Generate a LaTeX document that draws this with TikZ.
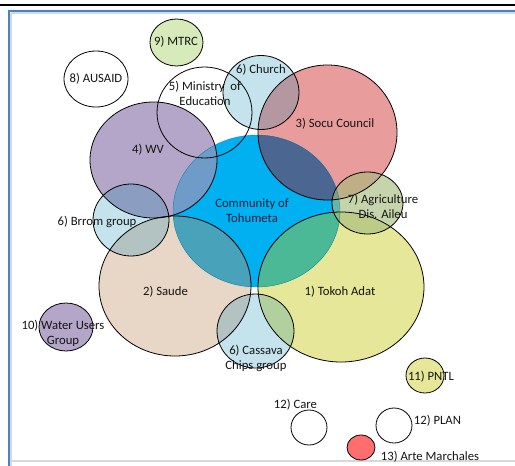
\documentclass[tikz,border=0pt]{standalone}
\usepackage{fontspec}
\setmainfont{Carlito}

\definecolor{frameblue}{RGB}{79,129,189}
\definecolor{framelight}{RGB}{205,218,236}
\definecolor{basegray}{RGB}{216,216,216}
\definecolor{commblue}{RGB}{0,176,240}
\definecolor{socured}{RGB}{233,156,156}
\definecolor{wvpurple}{RGB}{180,166,200}
\definecolor{saudebeige}{RGB}{232,214,198}
\definecolor{tokohyellow}{RGB}{230,231,152}
\definecolor{mtrcgreen}{RGB}{214,234,186}
\definecolor{artered}{RGB}{255,110,110}
\definecolor{tintblue}{RGB}{4,135,178}
\definecolor{agrigreen}{RGB}{165,187,124}
\definecolor{ovsocu}{RGB}{75,103,145}
\definecolor{ovwv}{RGB}{110,155,200}
\definecolor{ovsaude}{RGB}{72,162,185}
\definecolor{ovtokoh}{RGB}{75,185,150}
\definecolor{commtext}{RGB}{12,32,56}

\tikzset{
  ring/.style={draw=black, line width=0.8pt},
  txt/.style={font=\fontsize{12.7}{15}\selectfont, text=black!92, align=center, inner sep=0pt},
  tint/.style={fill=tintblue, fill opacity=0.23},
  % ellipse sizes of the groups
  rcomm/.style={x radius=83.5, y radius=76},
  rsocu/.style={x radius=69.5, y radius=67.5},
  rwv/.style={x radius=63.5, y radius=58},
  rsaude/.style={x radius=76, y radius=70},
  rtokoh/.style={x radius=83, y radius=75},
  ragri/.style={x radius=35.5, y radius=31},
  rchurch/.style={x radius=38, y radius=37},
  rminis/.style={x radius=47.5, y radius=45.5},
  rbrrom/.style={x radius=38, y radius=36},
  rcassava/.style={x radius=38.5, y radius=37},
  rmtrc/.style={x radius=26.5, y radius=23.5},
  rausaid/.style={x radius=32, y radius=28},
  rwater/.style={x radius=27, y radius=24},
  rpntl/.style={x radius=19, y radius=17.5},
  rcare/.style={x radius=18, y radius=17.5},
  rplan/.style={x radius=18, y radius=17.5},
  rarte/.style={x radius=14, y radius=12.5},
}

\begin{document}
\begin{tikzpicture}[x=1pt, y=-1pt]
\useasboundingbox (0,0) rectangle (515,466);

% page frame
\coordinate (tl) at (0,5);
\coordinate (tr) at (515,5);
\coordinate (bl) at (9,466);
\coordinate (fc) at (9,11);
\coordinate (fr) at (515,11);
\coordinate (gl) at (10,461);
\coordinate (gr) at (515,461);
\draw[line width=2pt] (tl) -- (tr);
\draw[framelight, line width=1.2pt] ([shift={(2,2)}]fc) -- ([shift={(0,2)}]fr);
\draw[framelight, line width=1.2pt] ([shift={(2,2)}]fc) -- ([shift={(2,0)}]bl);
\draw[frameblue, line width=2pt] (bl) -- (fc) -- (fr);
\draw[basegray, line width=1.5pt] (gl) -- (gr);

% centres
\coordinate (comm) at (256.5,211);
\coordinate (socu) at (327.5,132.5);
\coordinate (wv) at (153.5,160);
\coordinate (saude) at (175,286);
\coordinate (tokoh) at (341,287);
\coordinate (agri) at (367.5,203);
\coordinate (church) at (261,92.5);
\coordinate (minis) at (204.5,112.5);
\coordinate (brrom) at (131,220);
\coordinate (cassava) at (255.5,331);
\coordinate (mtrc) at (176.5,42.5);
\coordinate (ausaid) at (96,79);
\coordinate (water) at (66,327);
\coordinate (pntl) at (425,375.5);
\coordinate (care) at (309,427.5);
\coordinate (plan) at (394,425.5);
\coordinate (arte) at (361,447.5);

% solid fills
\fill[socured] (socu) ellipse [rsocu];
\fill[wvpurple] (wv) ellipse [rwv];
\fill[saudebeige] (saude) ellipse [rsaude];
\fill[tokohyellow] (tokoh) ellipse [rtokoh];
\fill[mtrcgreen] (mtrc) ellipse [rmtrc];
\fill[wvpurple] (water) ellipse [rwater];
\fill[tokohyellow] (pntl) ellipse [rpntl];
\fill[artered] (arte) ellipse [rarte];
\fill[commblue] (comm) ellipse [rcomm];

% shared areas with the community
\begin{scope}
  \clip (comm) ellipse [rcomm];
  \fill[ovsocu] (socu) ellipse [rsocu];
  \fill[ovwv] (wv) ellipse [rwv];
  \fill[ovsaude] (saude) ellipse [rsaude];
  \fill[ovtokoh] (tokoh) ellipse [rtokoh];
\end{scope}

% see-through groups
\fill[tint] (brrom) ellipse [rbrrom];
\fill[tint] (church) ellipse [rchurch];
\fill[tint] (cassava) ellipse [rcassava];
\fill[agrigreen, fill opacity=0.63] (agri) ellipse [ragri];

% outlines
\draw[commblue!60!black, line width=0.4pt, opacity=0.6] (comm) ellipse [rcomm];
\foreach \c in {socu, wv, saude, tokoh, agri, church, minis, brrom, cassava,
                mtrc, ausaid, water, pntl, care, plan, arte}
  \draw[ring] (\c) ellipse [r\c];

% labels
\node[txt] (tmtrc) at (176,42) {9) MTRC};
\node[txt] (tausaid) at (96,79) {8) AUSAID};
\node[txt] (tminis) at (205,93) {5) Ministry\ \ of\\Education};
\node[txt] (tchurch) at (261,70) {6) Church};
\node[txt] (tsocu) at (335,124) {3) Socu Council};
\node[txt] (twv) at (148,150) {4) WV};
\node[txt, text=commtext] (tcomm) at (252,210.5) {Community of\\Tohumeta};
\node[txt] (tbrrom) at (97,222) {6) Brrom group};
\node[txt] (tagri) at (383,206.5) {7) Agriculture\\Dis. Aileu};
\node[txt] (tsaude) at (165.5,292) {2) Saude};
\node[txt] (ttokoh) at (340,292) {1) Tokoh Adat};
\node[txt] (tcassava) at (256,358.5) {6) Cassava\\Chips group};
\node[txt] (twater) at (63,333.5) {10) Water Users\\Group};
\node[txt] (tpntl) at (431,377) {11) PNTL};
\node[txt] (tcare) at (295.5,405) {12) Care};
\node[txt] (tplan) at (437.5,421) {12) PLAN};
\node[txt] (tarte) at (430,457) {13) Arte Marchales};
\end{tikzpicture}
\end{document}
